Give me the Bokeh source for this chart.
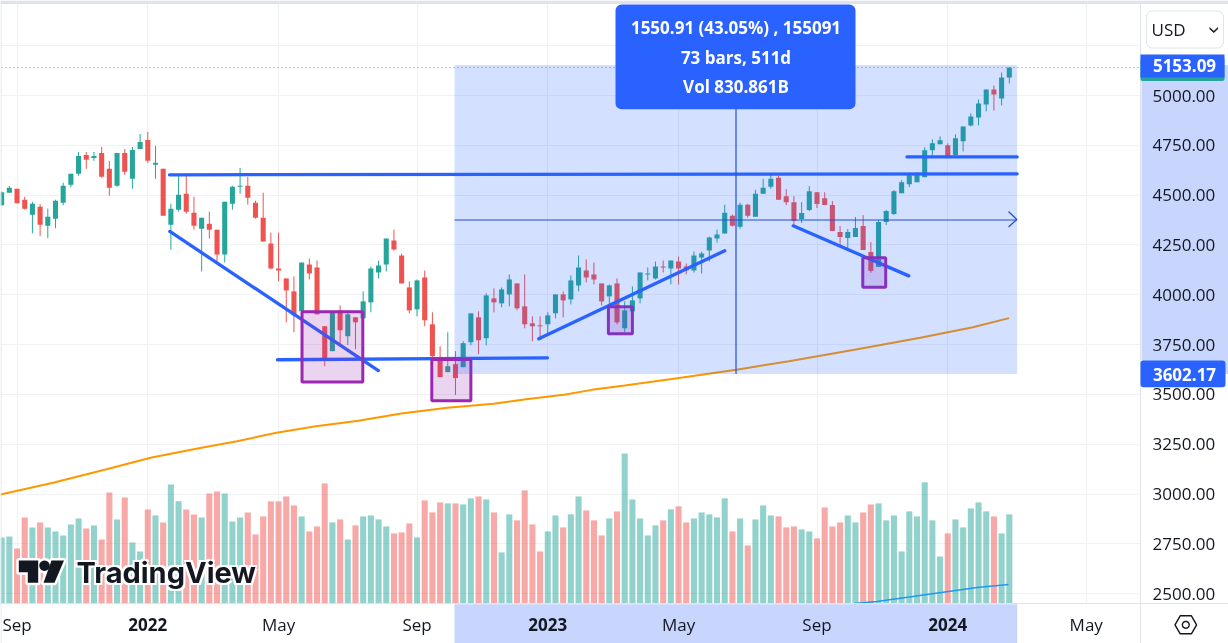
import numpy as np
from bokeh.embed import file_html
from bokeh.resources import INLINE
from bokeh.plotting import figure
from bokeh.models import (Range1d, LinearAxis, FixedTicker, Grid, BoxAnnotation, PolyAnnotation,
                          Label, ColumnDataSource, PrintfTickFormatter)

# ---- weekly bars, index 0 = first week of 2022 ----
first_index = -19
opens = [4449,4512,4532,4477,4402,4442,4347,4382,4462,4552,4607,4702,4687,4712,4632,4547,4712,4582,4732,4777,
         4652,4632,4352,4427,4507,4412,4332,4357,4327,4202,4457,4542,4547,4462,4387,4257,4132,4082,4017,3917,
         4152,4137,3842,3717,3922,3792,3887,3882,3962,4112,4152,4272,4197,4037,3927,4087,3852,3687,3612,3652,
         3637,3762,3887,3782,3982,3957,4002,4057,3942,3857,3847,3852,3907,4002,3977,4047,4122,4102,4057,3992,
         4057,3832,3917,3982,4102,4082,4142,4132,4167,4142,4122,4187,4222,4282,4307,4397,4342,4452,4392,4507,
         4542,4587,4495,4465,4380,4425,4515,4485,4450,4315,4285,4290,4345,4215,4140,4365,4405,4510,4555,4565,
         4590,4725,4755,4750,4700,4770,4850,4890,4955,5030,4985,5090]
highs = [4519,4547,4532,4492,4467,4455,4432,4477,4562,4607,4717,4717,4717,4742,4672,4712,4732,4742,4807,4817,
         4747,4632,4457,4597,4597,4492,4387,4417,4327,4467,4547,4637,4592,4472,4512,4312,4312,4082,4092,4162,
         4182,4172,3842,3917,3947,3922,3887,4017,4142,4172,4282,4327,4207,4067,4077,4122,3912,3742,3812,3717,
         3767,3907,3917,4007,4032,4037,4102,4057,4102,3892,3892,3912,4002,4017,4097,4197,4177,4162,4057,4052,
         4082,3967,4042,4112,4137,4167,4172,4172,4192,4157,4217,4217,4292,4327,4452,4402,4462,4457,4527,4582,
         4607,4597,4530,4495,4465,4545,4515,4515,4470,4345,4330,4390,4400,4265,4375,4425,4525,4575,4610,4615,
         4740,4780,4795,4760,4805,4845,4910,4980,5030,5050,5115,5140]
lows = [4447,4512,4459,4427,4309,4294,4284,4334,4449,4539,4597,4632,4672,4587,4497,4542,4602,4532,4732,4662,
        4582,4397,4227,4417,4407,4327,4117,4282,4162,4162,4427,4507,4452,4382,4267,4127,4067,3862,3812,3872,
        4077,3902,3642,3717,3742,3747,3727,3822,3912,4082,4117,4222,4057,3907,3892,3842,3652,3587,3612,3497,
        3637,3747,3702,3747,3912,3937,3942,3922,3832,3767,3772,3802,3882,3887,3952,4017,4062,4052,3947,3932,
        3852,3812,3917,3957,4072,4077,4112,4052,4052,4102,4112,4107,4167,4262,4307,4342,4332,4387,4392,4507,
        4532,4477,4450,4342,4360,4420,4435,4450,4320,4245,4225,4290,4225,4110,4140,4350,4400,4510,4540,4565,
        4590,4698,4755,4685,4700,4720,4845,4850,4920,4925,4950,5060]
closes = [4514,4537,4459,4432,4457,4352,4392,4472,4547,4607,4697,4677,4697,4592,4537,4712,4617,4727,4767,4672,
          4662,4397,4432,4502,4417,4347,4387,4327,4202,4467,4542,4547,4487,4387,4267,4132,4122,4022,3897,4162,
          4107,3902,3672,3917,3822,3902,3862,3967,4132,4147,4282,4227,4057,3922,4072,3872,3692,3587,3642,3582,
          3757,3907,3772,3997,3962,4027,4077,3932,3852,3842,3842,3897,4002,3972,4072,4137,4087,4077,3967,4047,
          3862,3922,3972,4112,4107,4142,4137,4172,4132,4122,4197,4207,4287,4302,4412,4347,4452,4397,4507,4537,
          4582,4477,4465,4370,4410,4520,4455,4450,4320,4290,4315,4335,4225,4120,4365,4420,4520,4565,4600,4610,
          4725,4760,4775,4695,4785,4845,4895,4960,5030,5005,5090,5140]
volumes_b = [7.54,7.66,6.29,9.82,8.68,9.25,8.68,8.22,7.77,9.02,9.70,8.57,8.91,7.31,12.66,9.59,12.09,6.97,5.95,10.73,
             10.04,9.25,13.57,11.64,10.73,10.16,9.82,12.54,12.77,12.54,9.36,9.82,10.38,7.88,9.93,11.64,11.64,12.20,11.18,9.93,
             8.22,8.79,13.68,9.25,9.59,7.31,8.91,9.93,10.04,9.59,8.79,8.00,8.11,9.13,7.54,11.75,10.38,11.52,11.41,11.41,
             11.29,11.98,12.20,11.86,10.38,5.84,10.16,9.48,12.89,9.02,5.95,8.22,10.04,8.68,10.16,12.20,10.61,9.48,7.77,9.70,
             10.50,17.09,11.86,9.70,7.77,8.91,9.48,10.73,11.07,9.25,9.70,10.38,10.16,9.82,11.98,8.22,9.70,6.63,9.59,11.18,
             10.04,9.93,8.68,8.79,8.45,8.22,7.43,10.95,8.79,9.25,10.04,9.25,10.38,11.29,11.41,9.48,10.04,5.95,10.50,9.93,
             13.80,9.48,5.38,8.00,9.59,8.68,10.84,11.52,10.50,9.93,8.00,10.16]

# moving average on price
ma_x = [-19.15,-12.31,-5.49,0.49,6.47,11.6,16.73,21.85,27.39,32.96,38.94,44.92,49.18,54.3,57.72,62,68.82,76.52,83.35,91.87,100.43,107.27,111.96]
ma_y = [2998,3057,3123,3184,3229,3265,3308,3341,3368,3404,3433,3453,3476,3500,3523,3545,3581,3624,3667,3724,3784,3837,3883]
# moving average on volume (billions)
vma_x = [91.8,94.8,101.3,107.8,111.9]
vma_y = [0.03,0.26,1.06,1.85,2.19]

# hand drawn lines: (x0, x1, y0, y1)
trend_x0 = [2.82, 2.86, 16.86, 50.83, 83.9, 98.7]
trend_x1 = [113.02, 29.97, 51.96, 75.0, 98.93, 113.02]
trend_y0 = [4602, 4318, 3674, 3779, 4346, 4692]
trend_y1 = [4607, 3620, 3684, 4221, 4095, 4692]
# purple boxes
box_left = [20.05, 36.92, 59.88, 92.95]
box_right = [27.95, 42.0, 63.0, 95.93]
box_top = [3915, 3675, 3940, 4186]
box_bottom = [3563, 3468, 3804, 4038]
# measure tool
measure_left, measure_right = 39.87, 113.02
measure_top, measure_bottom = 5153.09, 3602.17
measure_mid_x, measure_mid_y = 76.47, 4375.3
measure_texts = ["1550.91 (43.05%) , 155091", "73 bars, 511d", "Vol 830.861B"]

price_ticks = [2500, 2750, 3000, 3250, 3500, 3750, 4000, 4250, 4500, 4750, 5000]
grid_prices = price_ticks + [5250]
month_ticks = [-17, 17, 35, 69, 87, 122]
month_labels = ["Sep", "May", "Sep", "May", "Sep", "May"]
year_ticks = [0, 52, 104]
year_labels = ["2022", "2023", "2024"]

GREEN, RED, BLUE = "#26a69a", "#ef5350", "#2962ff"
INK = "#131722"
FONT = "Open Sans"
RULE = "#e0e3eb"
GRID = "#f0f1f5"
BAND = "#c8d5fd"
MEASURE_LINE = "#1f4fd8"

# pixel <-> data helpers, for furniture only
def X(px): return (px - 147.3) / 7.692
def Y(py): return 4000 + (294.3 - py) / 0.1993

p = figure(width=1228, height=643, output_backend="svg", toolbar_location=None,
           x_range=Range1d(X(0), X(1228)), y_range=Range1d(Y(643), Y(0)),
           x_axis_type=None, y_axis_type=None, min_border=0, outline_line_color=None,
           background_fill_color="white", border_fill_color="white")
p.styles = {"position": "fixed", "left": "0px", "top": "0px"}
p.grid.visible = False
p.extra_y_ranges = {"vol": Range1d(-(643 - 603.3) / 8.8, 603.3 / 8.8)}

# axes, pinned inside the full-canvas frame
def style(ax, bold=False, size="17px"):
    ax.axis_line_color = RULE
    ax.major_tick_line_color = None
    ax.minor_tick_line_color = None
    ax.major_label_text_font = FONT
    ax.major_label_text_font_size = size
    ax.major_label_text_color = INK
    if bold:
        ax.major_label_text_font_style = "bold"

ax = LinearAxis(ticker=FixedTicker(ticks=month_ticks), fixed_location=Y(603.3),
                major_label_overrides={t: s for t, s in zip(month_ticks, month_labels)})
style(ax); ax.major_label_standoff = 3
p.add_layout(ax, "below")

ax2 = LinearAxis(ticker=FixedTicker(ticks=year_ticks), fixed_location=Y(603.3),
                 major_label_overrides={t: s for t, s in zip(year_ticks, year_labels)})
style(ax2, bold=True); ax2.major_label_standoff = 8
p.add_layout(ax2, "below")

ay = LinearAxis(ticker=FixedTicker(ticks=price_ticks), formatter=PrintfTickFormatter(format="%.2f"),
                fixed_location=X(1140))
style(ay); ay.major_label_standoff = 6
p.add_layout(ay, "right")

p.add_layout(Grid(dimension=0, ticker=FixedTicker(ticks=month_ticks + year_ticks), grid_line_color=GRID, grid_line_width=1.2))
p.add_layout(Grid(dimension=1, ticker=FixedTicker(ticks=grid_prices), grid_line_color=GRID, grid_line_width=1.2))

# white panels of the price and time scales, with the measure tool's highlight
p.quad(left=[X(1140), X(0)], right=[X(1228), X(1228)], top=[Y(0), Y(603.3)], bottom=[Y(643), Y(643)],
       fill_color="white", line_color=None)
p.quad(left=[measure_left, X(1141)], right=[X(1016.7), X(1228)], top=[Y(603.8), measure_top],
       bottom=[Y(643), measure_bottom], fill_color=BAND, line_color=None)

# series
idx = np.arange(first_index, first_index + len(opens))
colors = [GREEN if c >= o else RED for o, c in zip(opens, closes)]
src = ColumnDataSource(dict(x=idx, o=opens, h=highs, l=lows, c=closes, v=volumes_b, color=colors,
                            top=np.maximum(opens, closes), bot=np.minimum(opens, closes)))

p.vbar(x="x", top="v", bottom=0, width=0.79, fill_color="color", fill_alpha=0.5, line_color=None,
       source=src, y_range_name="vol")
p.line(vma_x, vma_y, line_color="#2196f3", line_width=1.6, y_range_name="vol")

p.line([X(1), X(1140)], [closes[-1], closes[-1]], line_color=GREEN, line_width=1, line_dash="1 3")

p.segment(x0="x", x1="x", y0="l", y1="h", line_color="color", line_width=1, source=src)
p.vbar(x="x", top="top", bottom="bot", width=0.66, fill_color="color", line_color=None, source=src)

p.line(ma_x, ma_y, line_color="#ff9800", line_width=2)

p.segment(trend_x0, trend_y0, trend_x1, trend_y1, line_color=BLUE, line_width=3.3, line_cap="round")
p.quad(left=box_left, right=box_right, top=box_top, bottom=box_bottom, fill_color="#9c27b0", fill_alpha=0.2,
       line_color="#9c27b0", line_width=3)

# measure tool
p.quad(left=[measure_left], right=[measure_right], top=[measure_top], bottom=[measure_bottom],
       fill_color=BLUE, fill_alpha=0.2, line_color=None)
p.segment([measure_left], [measure_mid_y], [measure_right], [measure_mid_y], line_color=MEASURE_LINE, line_width=1.2)
p.segment([measure_mid_x], [measure_bottom], [measure_mid_x], [measure_top], line_color=MEASURE_LINE, line_width=1.2)
p.line([X(1008), X(1016.3), X(1008)], [Y(211), Y(219), Y(226.5)], line_color=MEASURE_LINE, line_width=1.2)

p.add_layout(BoxAnnotation(left=X(615), right=X(855), top=Y(4), bottom=Y(108.7), fill_color=BLUE, fill_alpha=1,
                           line_color=None, border_radius=6))
for t, py in zip(measure_texts, [27, 57, 86]):
    p.add_layout(Label(x=measure_mid_x, y=Y(py), text=t, text_color="white", text_font=FONT, text_font_size="17px",
                       text_font_style="bold", text_align="center", text_baseline="middle"))

# window edges
p.add_layout(BoxAnnotation(left=X(0), right=X(1228), bottom=Y(3.5), top=Y(0), fill_color=RULE, fill_alpha=1, line_color=None))
p.add_layout(BoxAnnotation(left=X(0), right=X(1), bottom=Y(643), top=Y(0), fill_color=RULE, fill_alpha=1, line_color=None))

# price labels
p.add_layout(BoxAnnotation(left=X(1140), right=X(1224), top=Y(57), bottom=Y(80.5), fill_color=GREEN, fill_alpha=1, line_color=None, border_radius=2))
p.add_layout(BoxAnnotation(left=X(1140), right=X(1224), top=Y(54), bottom=Y(77), fill_color=BLUE, fill_alpha=1, line_color=None))
p.add_layout(BoxAnnotation(left=X(1140), right=X(1225), top=Y(360), bottom=Y(386.7), fill_color=BLUE, fill_alpha=1, line_color=None, border_radius=3))
for v, py in zip(["5153.09", "3602.17"], [64.5, 373.7]):
    p.add_layout(Label(x=X(1184), y=Y(py), text=v, text_color="white", text_font=FONT, text_font_size="17px",
                       text_font_style="bold", text_align="center", text_baseline="middle"))

# currency selector
p.add_layout(BoxAnnotation(left=X(1146), right=X(1223), top=Y(10.5), bottom=Y(47.5), fill_color="white", fill_alpha=1,
                           line_color=RULE, line_alpha=1, line_width=1, border_radius=6))
p.add_layout(Label(x=X(1151), y=Y(29), text="USD", text_color=INK, text_font=FONT, text_font_size="17px",
                   text_align="left", text_baseline="middle"))
p.add_layout(PolyAnnotation(xs=[X(1209), X(1213.3), X(1217.5), X(1217.5), X(1213.3), X(1209)],
                            ys=[Y(26.5), Y(30.5), Y(26.5), Y(28.5), Y(32.5), Y(28.5)],
                            fill_color=INK, fill_alpha=1, line_color=None))

# settings icon
cx, cy = 1185.3, 624.3
hx = [cx - 10.8, cx - 5.6, cx + 5.6, cx + 10.8, cx + 5.6, cx - 5.6]
hy = [cy, cy - 9, cy - 9, cy, cy + 9, cy + 9]
p.add_layout(PolyAnnotation(xs=[X(a) for a in hx], ys=[Y(b) for b in hy], fill_color="white", fill_alpha=1,
                            line_color=INK, line_alpha=1, line_width=1.4))
ang = np.linspace(0, 2 * np.pi, 24, endpoint=False)
p.add_layout(PolyAnnotation(xs=[X(cx + 3.4 * np.cos(a)) for a in ang], ys=[Y(cy + 3.4 * np.sin(a)) for a in ang],
                            fill_color="white", fill_alpha=1, line_color=INK, line_alpha=1, line_width=1.4))

# watermark
logo = [
    [(18.3, 560), (37.7, 560), (37.7, 582.3), (27.3, 582.3), (27.3, 571.7), (18.3, 571.7)],
    [(44 + 5.2 * np.cos(a), 565.2 + 5.2 * np.sin(a)) for a in ang],
    [(51, 560), (63.5, 560), (54, 582.3), (43, 582.3)],
]
for pts in logo:
    xs = [X(a) for a, b in pts]; ys = [Y(b) for a, b in pts]
    p.patch(xs, ys, fill_color="white", line_color="white", line_width=5, line_join="round")
for pts in logo:
    xs = [X(a) for a, b in pts]; ys = [Y(b) for a, b in pts]
    p.patch(xs, ys, fill_color=INK, line_color=None)
for dx, dy in [(-2, -2), (2, -2), (-2, 2), (2, 2)]:
    p.add_layout(Label(x=X(76), y=Y(572), x_offset=dx, y_offset=dy, text="TradingView", text_color="white",
                       text_font="Inter", text_font_size="29px", text_font_style="bold",
                       text_align="left", text_baseline="middle"))
p.add_layout(Label(x=X(76), y=Y(572), text="TradingView", text_color=INK, text_font="Inter", text_font_size="29px",
                   text_font_style="bold", text_align="left", text_baseline="middle"))

open("out.html", "w").write(file_html(p, INLINE))
